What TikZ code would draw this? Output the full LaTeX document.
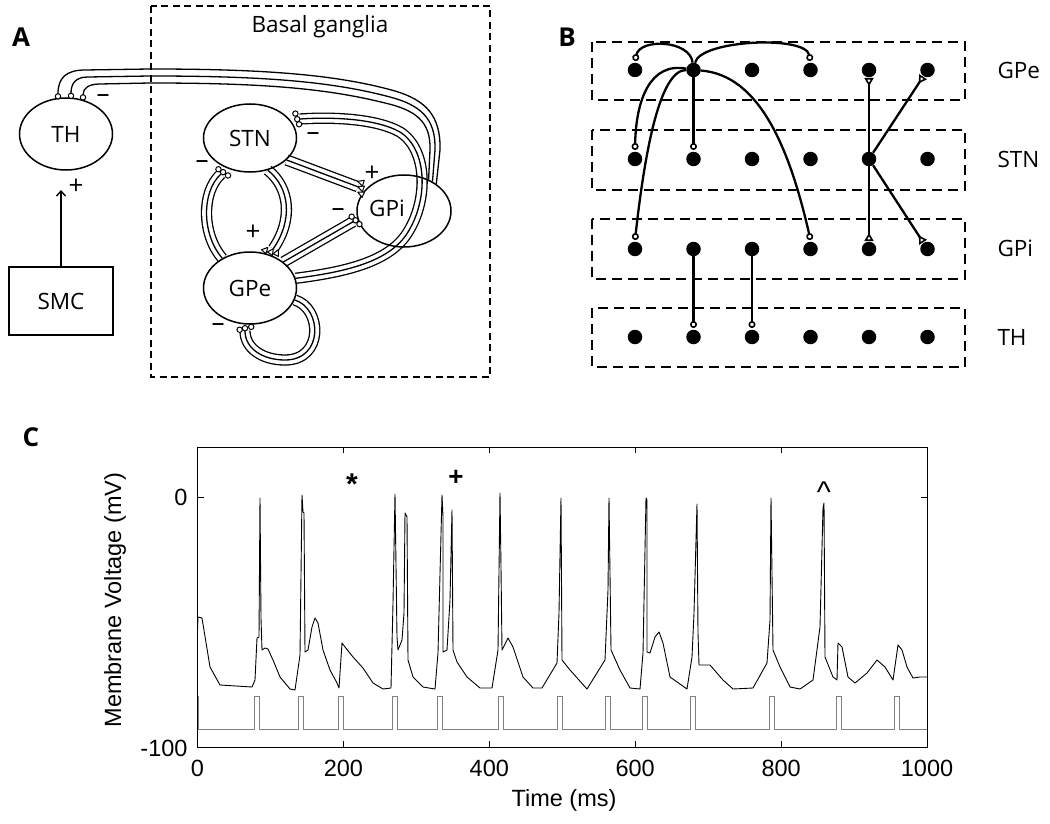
\documentclass[tikz,border=0pt]{standalone}
\usepackage{fontspec}
\setmainfont{Open Sans}
\newfontfamily\arialf{Liberation Sans}
\usetikzlibrary{shapes.geometric,arrows.meta,calc}
\pgfdeclarelayer{bg}
\pgfsetlayers{bg,main}
\newcommand\fA{\fontsize{22.5}{27}\selectfont}
\newcommand\fL{\fontsize{26}{30}\selectfont\bfseries}
\newcommand\fC{\arialf\fontsize{23.5}{28}\selectfont}
\newcommand\inhmark[2]{%
  \foreach \k in {-5,0,5}{%
    \pgfmathsetmacro\sh{-(2.8+0.3*\k)}%
    \coordinate (mkA) at ($(#1)!\k pt!90:(#2)$);%
    \draw[line width=1pt, fill=white] ($(mkA)!\sh pt!(#2)$) circle (2.7pt);%
  }}
\newcommand\excmark[2]{%
  \foreach \k in {-5,0,5}{%
    \pgfmathsetmacro\sh{-0.4*\k}%
    \coordinate (mkA) at ($(#1)!\k pt!90:(#2)$);%
    \coordinate (mkT) at ($(mkA)!\sh pt!(#2)$);%
    \coordinate (mkB) at ($(mkT)!-6pt!(#2)$);%
    \draw[line width=1pt, fill=white, line join=round] (mkT) -- ($(mkB)!3pt!90:(mkT)$) -- ($(mkB)!-3pt!90:(mkT)$) -- cycle;%
  }}
\tikzset{
  ell/.style={ellipse, draw, line width=1.5pt, inner sep=0pt, font=\fA},
  tri/.style={line width=1.3pt, preaction={draw, line width=11.3pt}, preaction={draw=white, line width=8.7pt}},
  thl/.style={line width=1.3pt},
  dashA/.style={line width=2pt, dash pattern=on 7pt off 4.5pt},
  dashB/.style={line width=2.6pt, dash pattern=on 10pt off 6pt},
  dotB/.style={circle, fill=black, inner sep=0pt, minimum size=14.5pt},
  bl/.style={line width=2.3pt},
  inhB/.style={-{Circle[open,length=7pt,line width=1.6pt]}},
  excB/.style={-{Triangle[open,reversed,length=8pt,width=9pt,line width=1.6pt]}},
  sym/.style={font=\fontsize{26}{30}\selectfont, inner sep=0pt}
}
\begin{document}
\begin{tikzpicture}[x=1pt,y=-1pt]
\useasboundingbox (0,0) rectangle (1050,824);

% ---------------- Panel A ----------------
\node[font=\fL] (labA) at (21,37) {A};
\node[font=\fA] (bgT) at (320,27) {Basal ganglia};
\node[ell, minimum width=93pt, minimum height=72pt] (TH) at (66,134) {TH};
\node[ell, minimum width=93pt, minimum height=68pt] (STN) at (250,138) {STN};
\node[ell, minimum width=93pt, minimum height=72pt] (GPe) at (250,288) {GPe};
\node[ell, minimum width=94pt, minimum height=72pt] (GPi) at (404,211) {};
\node[font=\fA] (GPiT) at (387,208) {GPi};
\node[draw, line width=1.5pt, minimum width=104pt, minimum height=68pt, inner sep=0pt, font=\fA] (SMC) at (61,301) {SMC};

\coordinate (smcTip) at (61,190);
\draw[line width=1.4pt, -{Straight Barb[length=5pt,width=9pt,line width=1.4pt]}] (SMC.north) -- (smcTip);

\coordinate (e1) at ($(GPi.151)!8pt!(STN.-31)$);
\coordinate (e2) at ($(GPi.190)!5pt!(GPe.38)$);
\coordinate (c3b) at (293,220);
\coordinate (e3) at ($(GPe.60)!7pt!(c3b)$);
\coordinate (c4b) at (201,192);
\coordinate (e4) at (221,174);
\coordinate (c5b) at (330,117);
\coordinate (e5) at (300,119);
\coordinate (c6b) at (245,348);
\coordinate (e6) at (245,331);
\coordinate (thA) at ($(TH.north)+(-8,-3.5)$);
\coordinate (thB) at ($(TH.north)+(5,-4)$);
\coordinate (thC) at ($(TH.north)+(17,-2.5)$);

\begin{pgfonlayer}{bg}
\draw[tri] (STN.-31) -- (e1);
\draw[tri] (GPe.38) -- (e2);
\draw[tri] (STN.-61) .. controls (290,188) and (c3b) .. (e3);
\draw[tri] (GPe.133) .. controls (202,235) and (c4b) .. (e4);
\draw[tri] (GPe.12) .. controls (345,272) and (390,262) .. (408,232) .. controls (428,200) and (428,150) .. (400,132) .. controls (375,118) and (c5b) .. (e5);
\draw[tri] (GPe.-15) .. controls (322,308) and (324,360) .. (285,360) .. controls (262,360) and (c6b) .. (e6);
\draw[thl] (GPi.40) -- (440,150) .. controls (441,115) and (425,100) .. (395,91) .. controls (335,74) and (260,69) .. (150,69) -- (85,70) .. controls (66,70) and (58,78) .. (thA);
\draw[thl] (GPi.46) -- (435,150) .. controls (436,118) and (420,105) .. (390,97) .. controls (330,81) and (260,76) .. (150,76) -- (88,77) .. controls (75,77) and (71,84) .. (thB);
\draw[thl] (GPi.52) -- (430,150) .. controls (431,121) and (415,110) .. (385,103) .. controls (325,88) and (260,83) .. (150,83) -- (100,84) .. controls (89,84) and (83,88) .. (thC);
\end{pgfonlayer}

\excmark{e1}{STN.-31}
\inhmark{e2}{GPe.38}
\excmark{e3}{c3b}
\inhmark{e4}{c4b}
\inhmark{e5}{c5b}
\inhmark{e6}{c6b}
\foreach \c in {thA,thB,thC}{\draw[line width=1pt, fill=white] ($(\c)+(0,2.6)$) circle (2.7pt);}

\node[sym] (m1) at (103,99) {–};
\node[sym] (m2) at (313,137) {–};
\node[sym] (m3) at (202,165) {–};
\node[sym] (m4) at (338,213) {–};
\node[sym] (m5) at (218,328) {–};
\node[sym] (p1s) at (372,174) {+};
\node[sym] (p2s) at (253,233) {+};
\node[sym] (p3s) at (76,187) {+};

\draw[dashA] (151,6) rectangle (490,377);

% ---------------- Panel B ----------------
\node[font=\fL] (labB) at (567,37) {B};
\foreach \yt/\yb in {42/100,130/190,219/279,308/367}{\draw[dashB] (592,\yt) rectangle (965,\yb);}
\node[font=\fA, anchor=west] (lGPe) at (994,70) {GPe};
\node[font=\fA, anchor=west] (lSTN) at (994,159) {STN};
\node[font=\fA, anchor=west] (lGPi) at (994,248) {GPi};
\node[font=\fA, anchor=west] (lTH) at (994,337) {TH};
\foreach \i in {1,...,6}{
  \pgfmathsetmacro\xx{635+58.5*(\i-1)}
  \node[dotB] (g\i) at (\xx,70) {};
  \node[dotB] (s\i) at (\xx,159) {};
  \node[dotB] (p\i) at (\xx,249) {};
  \node[dotB] (t\i) at (\xx,337) {};
}
\draw[bl, inhB] (g2) .. controls (690,40) and (640,38) .. ($(g1)+(0,-9)$);
\draw[bl, inhB] (g2) .. controls (700,40) and (805,35) .. ($(g4)+(0,-9)$);
\draw[bl, inhB] (g2) -- ($(s2)+(0,-9)$);
\draw[bl, inhB] (g2) .. controls (650,62) and (636,100) .. ($(s1)+(0,-9)$);
\draw[bl, inhB] (g2) .. controls (660,70) and (645,150) .. ($(p1)+(0,-9)$);
\draw[bl, inhB] (g2) .. controls (760,75) and (790,150) .. ($(p4)+(0,-9)$);
\draw[bl, inhB] (p2) -- ($(t2)+(0,-9)$);
\draw[bl, inhB] (p3) -- ($(t3)+(0,-9)$);
\draw[bl, excB] (s5) -- ($(g5)+(0,8)$);
\draw[bl, excB] (s5) -- ($(g6)!8pt!(s5)$);
\draw[bl, excB] (s5) -- ($(p5)+(0,-8)$);
\draw[bl, excB] (s5) -- ($(p6)!8pt!(s5)$);

% ---------------- Panel C ----------------
\node[font=\fL] (labC) at (31,437) {C};
\draw[gray, line width=1pt] (198.3,696) -- (198.3,729)
  \foreach \p in {254,298,338,392,437,498,557,605,642,690,769,836,894}{ -- (\p,729) -- (\p,696) -- ({\p+5},696) -- ({\p+5},729) } -- (927,729);
\draw[line width=0.9pt, line join=round] plot coordinates {
(197.5,630) (198,617) (202,618) (210,667) (220,685) (252,687) (255,680) (257,638) (259,637) (260,498) (261,618) (262,650) (265,648) (268,649) (273,660) (280,677) (290,689) (295,690) (300,655) (302,495) (303,512) (304,513) (305,652) (308,650) (312,627) (315,618) (318,623) (323,650) (330,670) (337,683) (339,688) (342,643) (345,647) (353,657) (363,668) (373,683) (383,689) (391,688) (393,603) (395,494) (397,637) (398,650) (402,640) (404,613) (405,513) (407,517) (408,660) (413,677) (423,687) (435,689) (438,653) (442,495) (443,517) (443,652) (447,650) (450,600) (452,510) (453,650) (457,662) (467,677) (480,688) (492,688) (498,650) (500,493) (501,567) (502,650) (508,638) (513,647) (523,677) (533,688) (542,688) (557,663) (559,613) (561,498) (562,660) (570,670) (587,689) (605,660) (608,590) (609,498) (611,650) (620,670) (630,688) (640,689) (643,653) (646,498) (647,500) (647,652) (650,653) (655,637) (659,632) (663,643) (670,677) (687,689) (692,657) (694,613) (697,504) (698,633) (699,665) (710,665) (723,680) (733,689) (753,688) (767,663) (770,620) (771,498) (773,650) (780,667) (790,687) (800,689) (813,680) (820,627) (823,508) (824,503) (825,657) (833,677) (837,680) (838,643) (842,647) (848,677) (855,683) (867,673) (877,660) (885,667) (893,680) (898,645) (902,650) (907,667) (913,678) (920,677) (927,677)};
\draw[line width=1pt] (197.5,447) rectangle (927,747);
\foreach \t in {200,400,600,800}{
  \draw[line width=1pt] ({197.5+0.7295*\t},747) -- ++(0,-6);
  \draw[line width=1pt] ({197.5+0.7295*\t},447) -- ++(0,6);
}
\draw[line width=1pt] (197.5,497) -- ++(6,0);
\draw[line width=1pt] (927,497) -- ++(-6,0);
\foreach \t in {0,200,400,600,800,1000}{\node[font=\fC] at ({197.5+0.7295*\t},768) {\t};}
\node[font=\fC, anchor=east] (y0) at (191,497) {0};
\node[font=\fC, anchor=east] (y100) at (191,748) {-100};
\node[font=\fC, rotate=90] (ylab) at (115,600) {Membrane Voltage (mV)};
\node[font=\fC] (xlab) at (564,800) {Time (ms)};
\node[font=\arialf\fontsize{30}{30}\selectfont\bfseries] (star) at (352,484) {*};
\node[font=\arialf\fontsize{26}{30}\selectfont\bfseries] (plus) at (456,478) {+};
\node[font=\arialf\fontsize{30}{30}\selectfont] (caret) at (824,492) {\textasciicircum};
\end{tikzpicture}
\end{document}
